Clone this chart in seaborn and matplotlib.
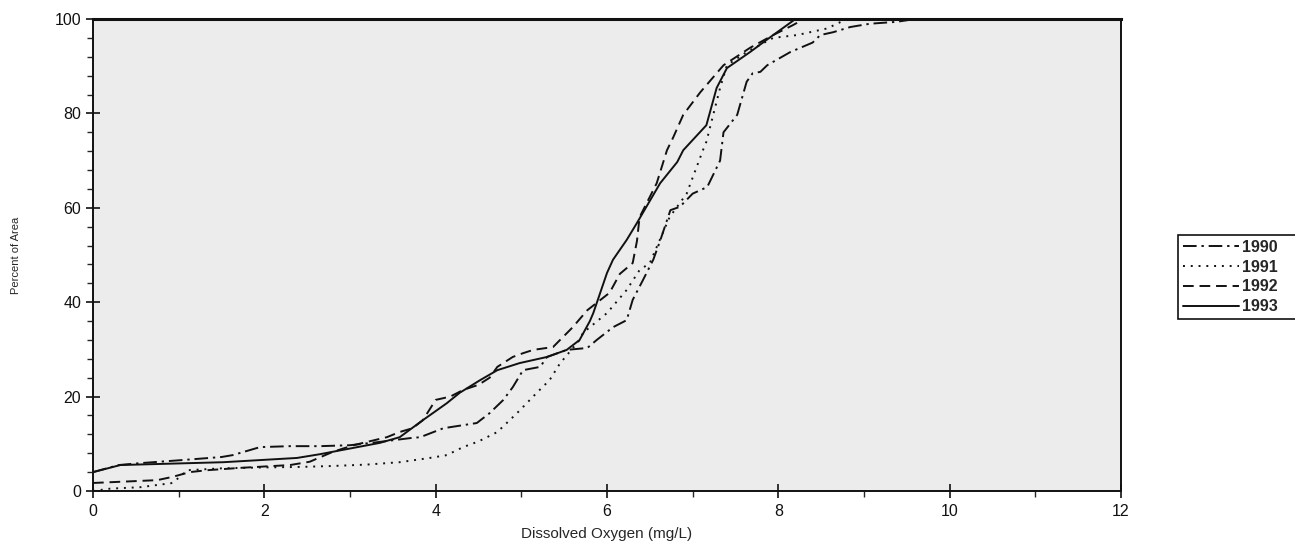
import numpy as np
import pandas as pd
import matplotlib
matplotlib.use("Agg")
import matplotlib.pyplot as plt
import seaborn as sns
from matplotlib.ticker import MultipleLocator

years = ["1990", "1991", "1992", "1993"]

x_1990 = [0, 0.3, 0.55, 1.0, 1.5, 1.63, 1.95, 2.3, 2.65, 3.0, 3.3, 3.7, 3.82, 4.09, 4.48,
          4.63, 4.79, 4.9, 5.02, 5.22, 5.3, 5.53, 5.77, 5.88, 6.07, 6.23, 6.3, 6.42, 6.54,
          6.62, 6.74, 6.85, 7.0, 7.17, 7.32, 7.36, 7.52, 7.63, 7.7, 7.79, 7.87, 8.14, 8.4,
          8.49, 8.64, 8.84, 9.07, 9.38, 9.6, 12.0]
y_1990 = [4, 5.5, 5.9, 6.5, 7.2, 7.6, 9.3, 9.5, 9.5, 9.7, 10.3, 11.2, 11.4, 13.3, 14.4,
          16.5, 19.3, 22, 25.6, 26.3, 28.4, 29.9, 30.3, 32, 34.7, 36.2, 40.5, 44.7, 49,
          53, 59.5, 60.2, 63, 64.4, 70, 76, 79.7, 86.7, 88.5, 88.8, 90.2, 93, 95,
          96.6, 97.2, 98.3, 99, 99.4, 100, 100]

x_1991 = [0, 0.2, 0.55, 0.93, 1.1, 1.5, 2.0, 2.42, 2.8, 3.2, 3.58, 3.93, 4.13, 4.32, 4.5,
          4.72, 4.95, 5.1, 5.18, 5.33, 5.45, 5.68, 5.72, 6.0, 6.23, 6.38, 6.5, 6.73, 6.93,
          7.12, 7.16, 7.24, 7.32, 7.4, 7.63, 7.94, 8.22, 8.57, 8.8, 12.0]
y_1991 = [0, 0.5, 0.8, 1.7, 4.4, 4.8, 5.0, 5.1, 5.3, 5.6, 6.1, 7.0, 7.6, 9.3, 10.5,
          12.5, 16.5, 19.3, 20.8, 23.5, 27, 32, 33.5, 37.7, 42.6, 46.8, 48.3, 58, 63,
          72.2, 74, 79.7, 85.4, 90.2, 93, 96, 96.6, 98, 100, 100]

x_1992 = [0, 0.75, 0.93, 1.13, 1.33, 1.72, 2.3, 2.53, 2.8, 3.04, 3.2, 3.43, 3.58, 3.73,
          3.85, 4.0, 4.17, 4.32, 4.5, 4.63, 4.72, 4.9, 5.02, 5.14, 5.37, 5.6, 5.77, 6.03,
          6.15, 6.3, 6.35, 6.38, 6.58, 6.7, 6.77, 6.89, 7.09, 7.36, 7.67, 7.94, 8.17,
          8.3, 12.0]
y_1992 = [1.7, 2.3, 3, 4, 4.4, 4.9, 5.5, 6.2, 8.3, 9.7, 10.4, 11.4, 12.5, 13.3,
          15, 19.3, 20, 21.4, 22.5, 24, 26.3, 28.4, 29.2, 29.9, 30.5, 34.7, 38.3, 42,
          46, 48.3, 53, 58, 65.2, 72.2, 74.8, 79.7, 84.5, 90.2, 93.9, 96.6, 98.7,
          100, 100]

x_1993 = [0, 0.32, 1.52, 2.38, 2.65, 3.0, 3.35, 3.58, 3.85, 4.13, 4.28, 4.52, 4.72, 4.98,
          5.3, 5.53, 5.68, 5.8, 5.84, 6.0, 6.07, 6.23, 6.35, 6.62, 6.82, 6.89, 7.16,
          7.28, 7.4, 7.67, 7.94, 8.2, 12.0]
y_1993 = [4, 5.5, 6.1, 7.0, 7.8, 9, 10.2, 11.4, 15, 18.6, 20.8, 23.5, 25.6, 27.1,
          28.4, 29.9, 32, 36, 37.7, 46.2, 49, 53.2, 56.8, 65.2, 69.7, 72.2, 77.5,
          85.4, 89.6, 93, 96.6, 100, 100]

x_ticks = [0, 2, 4, 6, 8, 10, 12]
y_ticks = [0, 20, 40, 60, 80, 100]

frames = []
for yr, xs, ys in [("1990", x_1990, y_1990), ("1991", x_1991, y_1991),
                   ("1992", x_1992, y_1992), ("1993", x_1993, y_1993)]:
    frames.append(pd.DataFrame({"DO": xs, "Pct": ys, "Year": yr}))
df = pd.concat(frames, ignore_index=True)

sns.set_style("ticks")
plt.rcParams["font.family"] = ["Liberation Sans", "DejaVu Sans"]

fig = plt.figure(figsize=(12.95, 5.46), dpi=100)
ax = fig.add_axes([93 / 1295, 1 - 491 / 546, (1121 - 93) / 1295, (491 - 19) / 546])
ax.set_facecolor("#ececec")

dash_styles = {
    "1990": (7, 2.5, 1.2, 2.5),
    "1991": (1, 3),
    "1992": (5.5, 3),
    "1993": "",
}
sns.lineplot(data=df, x="DO", y="Pct", hue="Year", style="Year",
             palette={y: "#111111" for y in years}, dashes=dash_styles,
             estimator=None, sort=False, linewidth=1.4, ax=ax, legend=True)

ax.set_xlim(0, 12)
ax.set_ylim(0, 100)
ax.set_xticks(x_ticks)
ax.set_yticks(y_ticks)
ax.xaxis.set_minor_locator(MultipleLocator(1))
ax.yaxis.set_minor_locator(MultipleLocator(4))
ax.tick_params(axis="both", which="major", direction="inout", length=10, width=1.2,
               labelsize=11.5, colors="#111111")
ax.tick_params(axis="both", which="minor", direction="out", length=4, width=1.0)
ax.tick_params(axis="x", which="major", pad=4)
for s in ax.spines.values():
    s.set_visible(True)
    s.set_color("#111111")
    s.set_linewidth(1.4)
ax.spines["top"].set_linewidth(2.2)

ax.set_xlabel("Dissolved Oxygen (mg/L)", fontsize=11, labelpad=6)
ax.set_ylabel("Percent of Area", fontsize=8, labelpad=24)

handles, labels = ax.get_legend_handles_labels()
ax.legend(handles, labels, loc="upper left",
          bbox_to_anchor=(1178 / 1295, 1 - 322 / 546, 140 / 1295, 87 / 546),
          bbox_transform=fig.transFigure, mode="expand",
          frameon=True, fancybox=False, edgecolor="#111111", framealpha=1,
          prop={"weight": "bold", "size": 11.5}, handlelength=3.5, handletextpad=0.2,
          labelspacing=0.3, borderpad=0.3, borderaxespad=0)
ax.get_legend().get_frame().set_linewidth(1.2)

fig.savefig("out.png", dpi=100)
